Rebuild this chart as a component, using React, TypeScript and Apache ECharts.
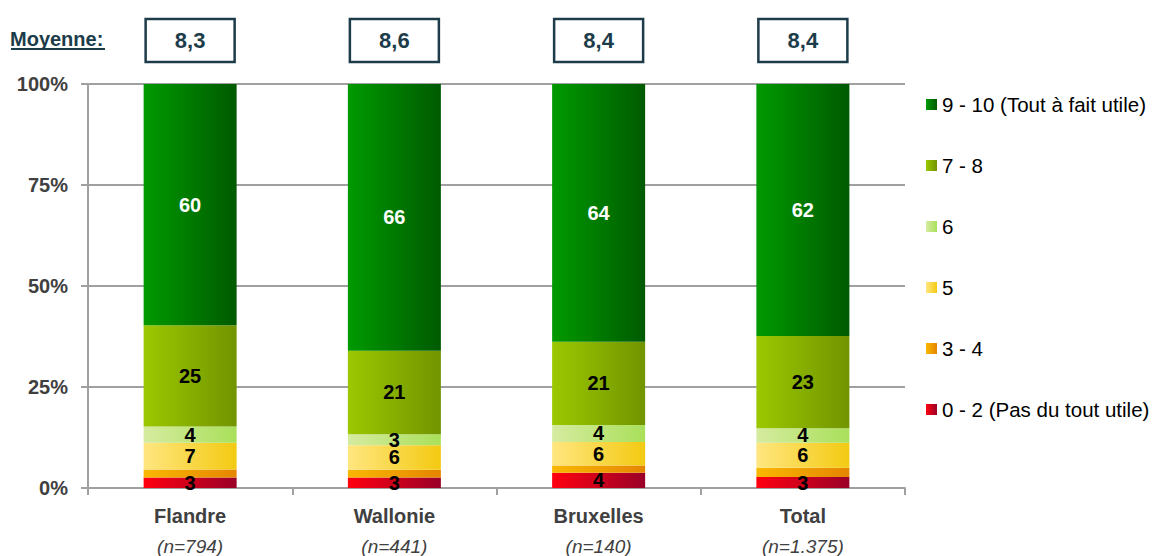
import React, { useEffect, useRef } from "react";
import * as echarts from "echarts";

const categories = ["Flandre", "Wallonie", "Bruxelles", "Total"];
const sampleSizes = ["(n=794)", "(n=441)", "(n=140)", "(n=1.375)"];
const means = ["8,3", "8,6", "8,4", "8,4"];
const yTicks = [0, 25, 50, 75, 100];

const s0_2 = [2.6, 2.6, 3.8, 2.7];
const s3_4 = [2.0, 1.9, 1.8, 2.3];
const s5 = [6.6, 6.1, 5.8, 6.2];
const s6 = [4.0, 2.7, 4.2, 3.6];
const s7_8 = [25.1, 20.7, 20.6, 22.8];
const s9_10 = [59.7, 66.0, 63.8, 62.4];

const seriesNames = [
  "0 - 2 (Pas du tout utile)",
  "3 - 4",
  "5",
  "6",
  "7 - 8",
  "9 - 10 (Tout à fait utile)",
];
const seriesData = [s0_2, s3_4, s5, s6, s7_8, s9_10];
const gradientStops = [
  ["#ff0010", "#9a0028"],
  ["#f9b800", "#e58500"],
  ["#ffe680", "#f3ca12"],
  ["#d6eba0", "#a9e05a"],
  ["#9bc800", "#729400"],
  ["#009a00", "#005a00"],
];
const labelColors = ["#000", "#000", "#000", "#000", "#000", "#fff"];
const showLabel = [true, false, true, true, true, true];

const FONT = "'Liberation Sans', Arial, sans-serif";
const GREY = "#a0a0a0";
const TEXT = "#404040";
const NAVY = "#1d3c4a";

export default function App() {
  const ref = useRef<HTMLDivElement>(null);
  useEffect(() => {
    document.body.style.margin = "0";
    const chart = echarts.init(ref.current!, null, { renderer: "svg" });
    const series = seriesNames.map((name, i) => ({
      name,
      type: "bar",
      stack: "total",
      barWidth: 93,
      data: seriesData[i],
      itemStyle: {
        color: new echarts.graphic.LinearGradient(0, 0, 1, 0, [
          { offset: 0, color: gradientStops[i][0] },
          { offset: 1, color: gradientStops[i][1] },
        ]),
      },
      label: {
        show: showLabel[i],
        position: "inside",
        formatter: (p: any) => String(Math.round(p.value)),
        color: labelColors[i],
        fontFamily: FONT,
        fontWeight: "bold",
        fontSize: 20,
        lineHeight: 15,
      },
    }));
    chart.setOption({
      animation: false,
      textStyle: { fontFamily: FONT },
      grid: { left: 88, right: 248, top: 84, bottom: 66 },
      legend: {
        orient: "vertical",
        left: 921,
        top: 89,
        itemWidth: 11,
        itemHeight: 11,
        itemGap: 40,
        icon: "rect",
        data: seriesNames.slice().reverse(),
        textStyle: { fontFamily: FONT, fontSize: 20.5, lineHeight: 20, color: "#000" },
      },
      xAxis: [
        {
          type: "category",
          data: categories,
          axisLine: { show: true, lineStyle: { color: GREY, width: 2 } },
          axisTick: { show: true, length: 7, lineStyle: { color: GREY, width: 2 } },
          axisLabel: {
            margin: 12,
            formatter: (v: string, i: number) => `{a|${v}}\n{b|${sampleSizes[i]}}`,
            rich: {
              a: { fontFamily: FONT, fontSize: 20, fontWeight: "bold", color: TEXT, lineHeight: 31 },
              b: { fontFamily: FONT, fontSize: 19, fontStyle: "italic", color: TEXT, lineHeight: 31 },
            },
          },
        },
        {
          type: "category",
          position: "top",
          data: categories,
          axisLine: { show: false },
          axisTick: { show: false },
          axisLabel: {
            margin: 22,
            formatter: (_v: string, i: number) => means[i],
            fontFamily: FONT,
            fontSize: 22,
            fontWeight: "bold",
            color: NAVY,
            borderColor: NAVY,
            borderWidth: 2.5,
            width: 89,
            height: 43,
            lineHeight: 43,
            align: "center",
            padding: 0,
          },
        },
      ],
      yAxis: {
        type: "value",
        min: 0,
        max: 100,
        interval: 25,
        axisLine: { show: true, lineStyle: { color: GREY, width: 2 } },
        axisTick: { show: true, length: 7, lineStyle: { color: GREY, width: 2 } },
        splitLine: { show: true, lineStyle: { color: GREY, width: 2 } },
        axisLabel: {
          margin: 20,
          formatter: (v: number) => (yTicks.includes(v) ? `${v}%` : ""),
          fontFamily: FONT,
          fontSize: 20,
          fontWeight: "bold",
          color: TEXT,
        },
      },
      graphic: [
        {
          type: "text",
          left: 10,
          top: 29,
          style: {
            text: "Moyenne:",
            fontFamily: FONT,
            fontSize: 20,
            fontWeight: "bold",
            fill: NAVY,
          },
        },
        {
          type: "line",
          shape: { x1: 11, y1: 49, x2: 105, y2: 49 },
          style: { stroke: NAVY, lineWidth: 2 },
        },
      ],
      series,
    });
    return () => chart.dispose();
  }, []);
  return <div ref={ref} style={{ width: 1153, height: 556 }} />;
}
